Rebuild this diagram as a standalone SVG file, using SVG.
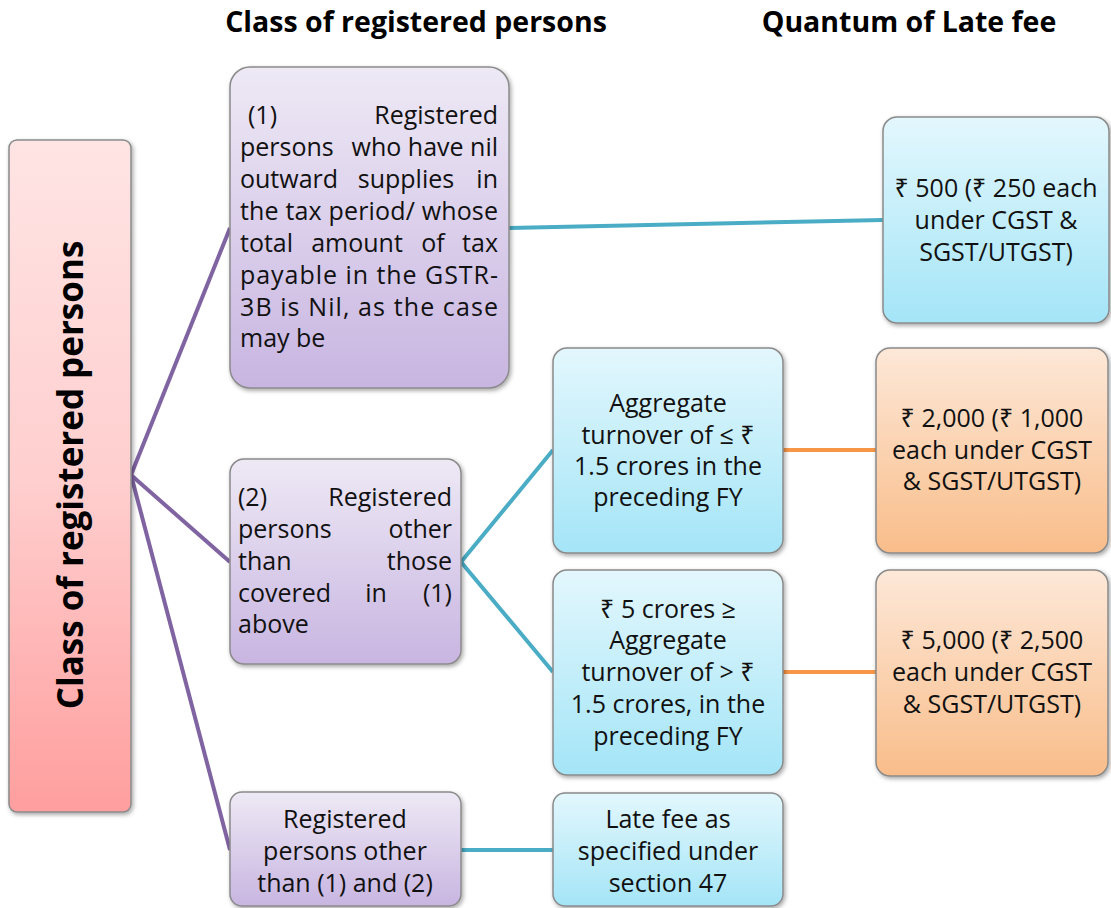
<svg xmlns="http://www.w3.org/2000/svg" width="1111" height="908" viewBox="0 0 1111 908">
<style>
.t{font-family:"Open Sans","Noto Sans","DejaVu Sans",sans-serif;font-size:25px;fill:#111}
.c{text-anchor:middle}
.e{text-anchor:end}
.h{font-family:"Open Sans","Noto Sans",sans-serif;font-size:28.5px;font-weight:bold;fill:#000;text-anchor:middle}
.box{stroke:#8a8a8a;stroke-width:1.5;filter:url(#sh)}
.lp{stroke:#8064a2;stroke-width:4;fill:none}
.lb{stroke:#4bacc6;stroke-width:4;fill:none}
.lo{stroke:#f79646;stroke-width:4;fill:none}
</style>
<defs>
<linearGradient id="gr" x1="0" y1="0" x2="0" y2="1"><stop offset="0" stop-color="#ffe4e4"/><stop offset="0.5" stop-color="#ffcfcf"/><stop offset="1" stop-color="#ff9e9e"/></linearGradient>
<linearGradient id="gp" x1="0" y1="0" x2="0" y2="1"><stop offset="0" stop-color="#eee9f5"/><stop offset="1" stop-color="#c8b5e1"/></linearGradient>
<linearGradient id="gb" x1="0" y1="0" x2="0" y2="1"><stop offset="0" stop-color="#e3f7fd"/><stop offset="1" stop-color="#a4e5f7"/></linearGradient>
<linearGradient id="go" x1="0" y1="0" x2="0" y2="1"><stop offset="0" stop-color="#fde8d8"/><stop offset="1" stop-color="#f9bd8a"/></linearGradient>
<filter id="sh" x="-10%" y="-10%" width="130%" height="130%"><feDropShadow dx="1.5" dy="2" stdDeviation="2" flood-color="#000" flood-opacity="0.35"/></filter>
</defs>
<rect width="1111" height="908" fill="#fff"/>
<text class="h" x="416" y="32">Class of registered persons</text>
<text class="h" x="909" y="32">Quantum of Late fee</text>
<g id="connectors">
<line class="lp" x1="131" y1="475" x2="230" y2="228"/>
<line class="lp" x1="131" y1="475" x2="230" y2="562"/>
<line class="lp" x1="131" y1="475" x2="230" y2="850"/>
<line class="lb" x1="509" y1="228" x2="883" y2="220"/>
<line class="lb" x1="461" y1="562" x2="553" y2="450"/>
<line class="lb" x1="461" y1="562" x2="553" y2="672"/>
<line class="lb" x1="461" y1="850" x2="553" y2="850"/>
<line class="lo" x1="783" y1="450" x2="876" y2="450"/>
<line class="lo" x1="783" y1="672" x2="876" y2="672"/>
</g>
<g id="root">
<rect class="box" x="9" y="140" width="122" height="672" rx="8" fill="url(#gr)"/>
<text transform="translate(83,475) rotate(-90)" font-family="'Open Sans','Noto Sans',sans-serif" font-size="35" font-weight="bold" text-anchor="middle" fill="#000">Class of registered persons</text>
</g>
<g id="n1">
<rect class="box" x="230" y="67" width="279" height="321" rx="20" fill="url(#gp)"/>
<text class="t" x="248" y="124">(1)</text>
<text class="t e" x="498" y="124">Registered</text>
<text class="t" x="240" y="156">persons</text>
<text class="t e" x="498" y="156">who have nil</text>
<text class="t" x="240" y="188">outward</text>
<text class="t c" x="406" y="188">supplies</text>
<text class="t e" x="498" y="188">in</text>
<text class="t" x="240" y="220" textLength="258" lengthAdjust="spacing">the tax period/ whose</text>
<text class="t" x="240" y="252">total</text>
<text class="t c" x="357" y="252">amount</text>
<text class="t c" x="433" y="252">of</text>
<text class="t e" x="498" y="252">tax</text>
<text class="t" x="240" y="284" textLength="258" lengthAdjust="spacing">payable in the GSTR-</text>
<text class="t" x="240" y="316" textLength="258" lengthAdjust="spacing">3B is Nil, as the case</text>
<text class="t" x="240" y="347">may be</text>
</g>
<g id="n2">
<rect class="box" x="230" y="459" width="231" height="205" rx="14" fill="url(#gp)"/>
<text class="t" x="238" y="506">(2)</text>
<text class="t e" x="452" y="506">Registered</text>
<text class="t" x="238" y="538">persons</text>
<text class="t e" x="452" y="538">other</text>
<text class="t" x="238" y="570">than</text>
<text class="t e" x="452" y="570">those</text>
<text class="t" x="238" y="602">covered</text>
<text class="t c" x="376" y="602">in</text>
<text class="t e" x="452" y="602">(1)</text>
<text class="t" x="238" y="633">above</text>
</g>
<g id="n3">
<rect class="box" x="230" y="792" width="231" height="114" rx="12" fill="url(#gp)"/>
<text class="t c" x="345" y="828">Registered</text>
<text class="t c" x="345" y="860">persons other</text>
<text class="t c" x="345" y="892">than (1) and (2)</text>
</g>
<g id="nA">
<rect class="box" x="553" y="348" width="230" height="205" rx="14" fill="url(#gb)"/>
<text class="t c" x="668" y="412">Aggregate</text>
<text class="t c" x="668" y="444">turnover of ≤ ₹</text>
<text class="t c" x="668" y="475">1.5 crores in the</text>
<text class="t c" x="668" y="506">preceding FY</text>
</g>
<g id="nB">
<rect class="box" x="553" y="570" width="230" height="205" rx="14" fill="url(#gb)"/>
<text class="t c" x="668" y="618">₹ 5 crores ≥</text>
<text class="t c" x="668" y="649">Aggregate</text>
<text class="t c" x="668" y="681">turnover of &gt; ₹</text>
<text class="t c" x="668" y="713">1.5 crores, in the</text>
<text class="t c" x="668" y="745">preceding FY</text>
</g>
<g id="nC">
<rect class="box" x="553" y="793" width="230" height="113" rx="12" fill="url(#gb)"/>
<text class="t c" x="668" y="828">Late fee as</text>
<text class="t c" x="668" y="860">specified under</text>
<text class="t c" x="668" y="892">section 47</text>
</g>
<g id="nD">
<rect class="box" x="883" y="117" width="226" height="206" rx="14" fill="url(#gb)"/>
<text class="t c" x="996" y="197">₹ 500 (₹ 250 each</text>
<text class="t c" x="996" y="229">under CGST &amp;</text>
<text class="t c" x="996" y="261">SGST/UTGST)</text>
</g>
<g id="nE">
<rect class="box" x="876" y="348" width="232" height="205" rx="14" fill="url(#go)"/>
<text class="t c" x="992" y="427">₹ 2,000 (₹ 1,000</text>
<text class="t c" x="992" y="459">each under CGST</text>
<text class="t c" x="992" y="490">&amp; SGST/UTGST)</text>
</g>
<g id="nF">
<rect class="box" x="876" y="570" width="232" height="206" rx="14" fill="url(#go)"/>
<text class="t c" x="992" y="649">₹ 5,000 (₹ 2,500</text>
<text class="t c" x="992" y="681">each under CGST</text>
<text class="t c" x="992" y="713">&amp; SGST/UTGST)</text>
</g>
</svg>
